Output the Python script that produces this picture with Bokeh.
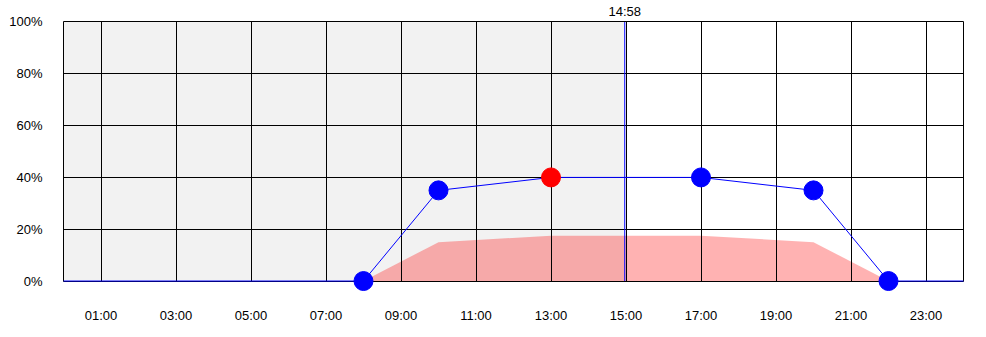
from bokeh.plotting import figure
from bokeh.models import (Range1d, FixedTicker, PrintfTickFormatter, LinearAxis,
                          CustomJSTickFormatter)
from bokeh.embed import file_html
from bokeh.resources import INLINE

# ---- data ----
line_hours = [0, 8, 10, 13, 17, 20, 22, 24]
line_values = [0, 0, 35, 40, 40, 35, 0, 0]
marker_hours = [8, 10, 13, 17, 20, 22]
marker_values = [0, 35, 40, 40, 35, 0]
marker_colors = ["#0000ff", "#0000ff", "#ff0000", "#0000ff", "#0000ff", "#0000ff"]
area_hours = [8, 10, 13, 17, 20, 22]
area_values = [0, 15, 17.5, 17.5, 15, 0]
now_hour = 14 + 58 / 60
now_label = "14:58"
x_start, x_end = 0, 24
y_start, y_end = 0, 100
x_ticks = [1, 3, 5, 7, 9, 11, 13, 15, 17, 19, 21, 23]
x_tick_labels = ["01:00", "03:00", "05:00", "07:00", "09:00", "11:00",
                 "13:00", "15:00", "17:00", "19:00", "21:00", "23:00"]
y_ticks = [0, 20, 40, 60, 80, 100]

FONT = "Liberation Sans"
FS = "13px"

# the frame is padded a little so that the box lines are interior grid lines
# and the markers at 0% are not clipped; a half-pixel shift keeps the
# horizontal data line crisp
x_px, y_px = 900, 260
unit_y = (y_end - y_start) / y_px
x_pad = (x_end - x_start) / x_px            # 1 px
y_lo = y_start - 11 * unit_y + 0.5 * unit_y
y_hi = y_end + 1 * unit_y + 0.5 * unit_y

p = figure(width=986, height=337, output_backend="svg", toolbar_location=None,
           x_range=Range1d(x_start - x_pad, x_end + x_pad),
           y_range=Range1d(y_lo, y_hi),
           min_border_left=62, min_border_right=22, min_border_top=19,
           min_border_bottom=46)
p.background_fill_color = "white"
p.border_fill_color = "white"
p.outline_line_color = None

# past shading
p.quad(left=[x_start], right=[now_hour], bottom=[y_start], top=[y_end],
       fill_color="#f2f2f2", line_color=None, level="image")
# area
p.varea(x=area_hours, y1=[0] * len(area_hours), y2=area_values,
        fill_color="#ff0000", fill_alpha=0.3, level="image")

# grid lines (including the box)
p.xgrid.ticker = FixedTicker(ticks=[x_start] + x_ticks + [x_end])
p.ygrid.ticker = FixedTicker(ticks=y_ticks)
p.xgrid.cross_bounds = (y_start, y_end)
p.ygrid.cross_bounds = (x_start, x_end)
for g in (p.xgrid, p.ygrid):
    g.grid_line_color = "black"
    g.grid_line_alpha = 1
    g.grid_line_width = 1

# now line
p.segment(x0=[now_hour], x1=[now_hour], y0=[y_start], y1=[y_end],
          line_color="#0000ff", line_width=1)

# line + markers
p.line(line_hours, line_values, line_color="#0000ff", line_width=1)
p.scatter(marker_hours, marker_values, size=19, fill_color=marker_colors,
          line_color=marker_colors)

# axes
bottom_axis = p.below[0]
bottom_axis.ticker = FixedTicker(ticks=x_ticks)
bottom_axis.major_label_overrides = {t: l for t, l in zip(x_ticks, x_tick_labels)}
left_axis = p.left[0]
left_axis.ticker = FixedTicker(ticks=y_ticks)
left_axis.formatter = PrintfTickFormatter(format="%d%%")

now_axis = LinearAxis(ticker=FixedTicker(ticks=[now_hour]),
                      formatter=CustomJSTickFormatter(args=dict(label=now_label),
                                                      code="return label"))
p.add_layout(now_axis, "above")

for ax in (bottom_axis, now_axis, left_axis):
    ax.axis_line_color = None
    ax.major_tick_line_color = None
    ax.minor_tick_line_color = None
    ax.major_tick_out = 0
    ax.major_tick_in = 0
    ax.minor_tick_out = 0
    ax.minor_tick_in = 0
    ax.major_label_text_font = FONT
    ax.major_label_text_font_size = FS
    ax.major_label_text_color = "black"
bottom_axis.major_label_standoff = 16
now_axis.major_label_standoff = 2
left_axis.major_label_standoff = 20

open("out.html", "w").write(file_html(p, INLINE))
